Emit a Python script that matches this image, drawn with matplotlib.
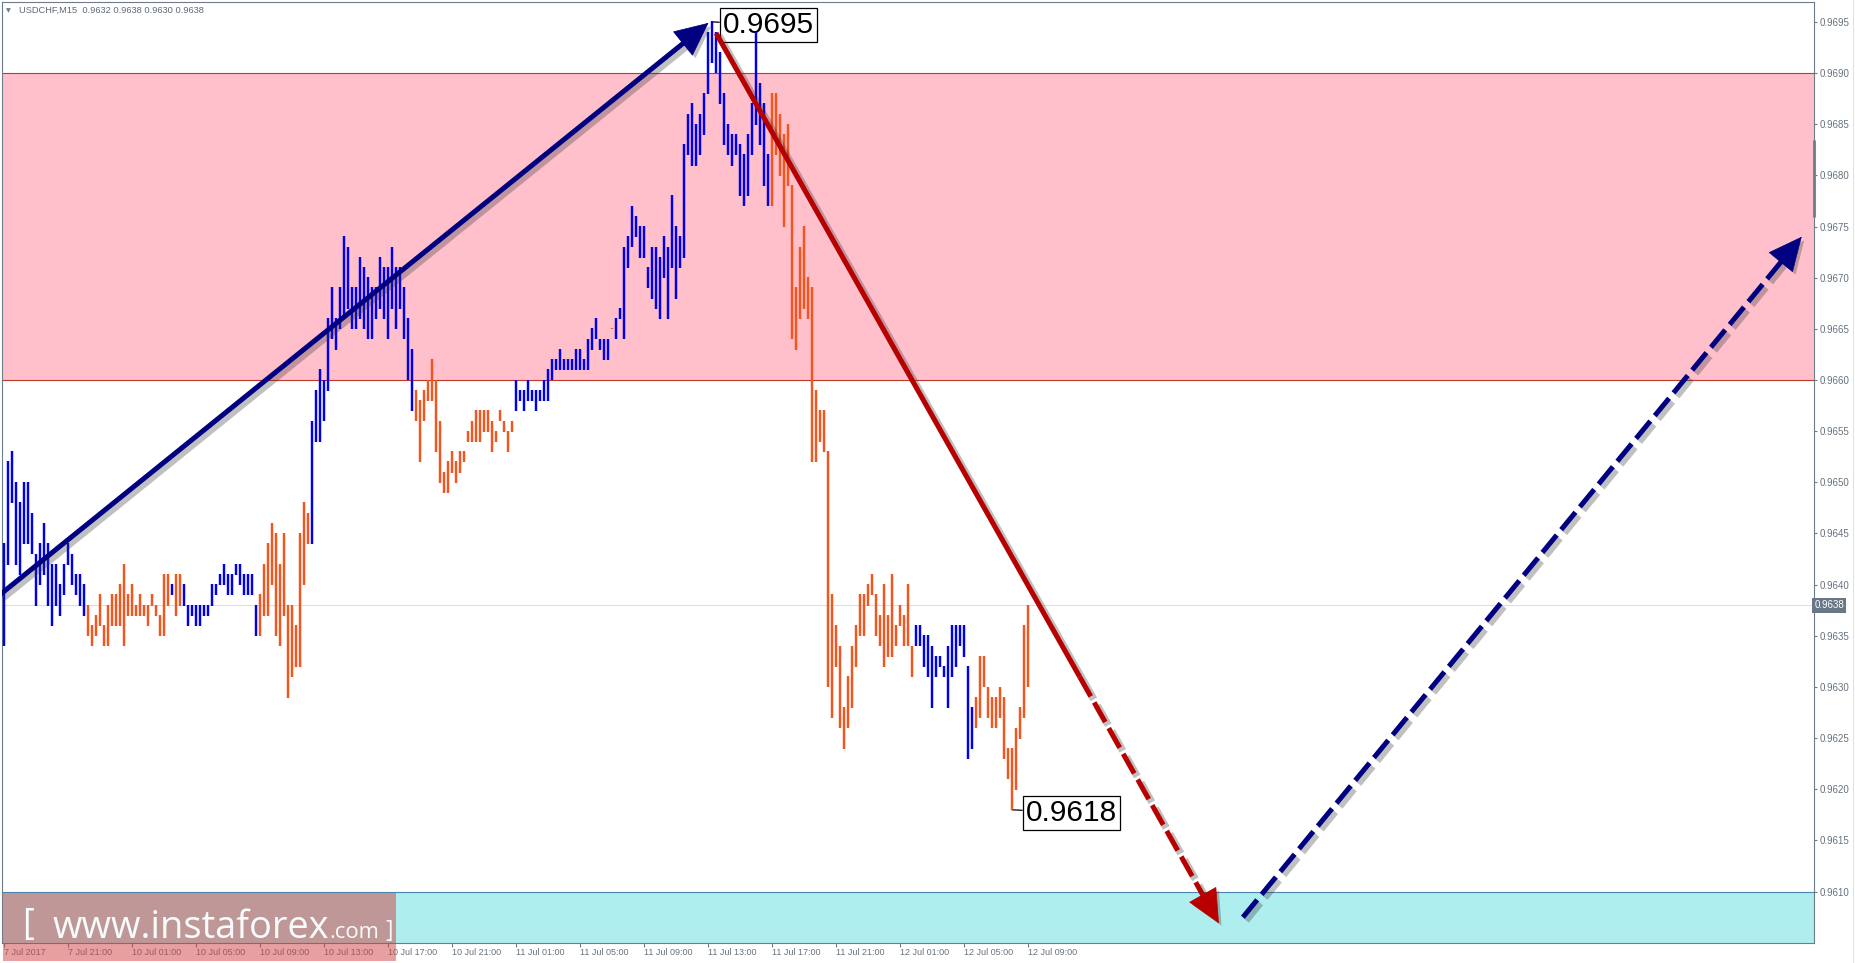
import numpy as np
import matplotlib.pyplot as plt
import matplotlib.patheffects as pe
from matplotlib.patches import Rectangle
from matplotlib.lines import Line2D
from matplotlib.transforms import blended_transform_factory

plt.rcParams['font.family'] = ['Liberation Sans', 'DejaVu Sans']

W, H, DPI = 1856, 963, 100

# ---- data: USDCHF M15 bars, high / low in pips above 0.9600 ----
high_pips = [
    44, 52, 53, 50, 48, 50, 50, 47, 43, 44, 46, 44, 42, 42, 40, 42,
    44, 43, 41, 41, 40, 38, 36, 37, 39, 36, 38, 39, 39, 40, 42, 39,
    40, 38, 39, 38, 38, 39, 38, 37, 41, 41, 40, 41, 41, 40, 38, 38,
    38, 38, 38, 38, 40, 40, 41, 42, 41, 41, 42, 42, 41, 41, 41, 38,
    39, 42, 44, 46, 45, 42, 45, 38, 38, 36, 45, 48, 47, 56, 59, 61,
    60, 66, 69, 66, 69, 74, 73, 69, 69, 72, 71, 70, 69, 69, 72, 71,
    71, 73, 71, 71, 69, 66, 63, 59, 58, 59, 60, 62, 60, 56, 51, 52,
    53, 52, 53, 53, 55, 56, 57, 57, 57, 57, 56, 55, 57, 56, 55, 56,
    60, 59, 59, 60, 59, 59, 59, 60, 61, 62, 62, 63, 62, 62, 62, 63,
    63, 62, 64, 65, 66, 64, 64, 64, 65, 66, 67, 73, 74, 77, 76, 75,
    75, 71, 73, 73, 72, 74, 73, 78, 75, 74, 83, 86, 87, 85, 86, 88,
    94, 95, 94, 92, 88, 85, 84, 84, 83, 82, 84, 87, 94, 89, 87, 82,
    88, 88, 86, 84, 85, 79, 69, 73, 75, 70, 69, 59, 57, 57, 53, 39,
    36, 34, 28, 31, 34, 36, 39, 39, 40, 41, 39, 37, 40, 37, 41, 36,
    38, 37, 40, 34, 36, 36, 35, 35, 34, 33, 33, 32, 34, 36, 36, 36,
    36, 32, 28, 29, 33, 33, 30, 29, 29, 30, 29, 24, 24, 26, 28, 36,
    38,
]
low_pips = [
    34, 42, 48, 42, 41, 44, 44, 43, 38, 40, 41, 38, 36, 38, 37, 39,
    42, 40, 39, 38, 37, 35, 34, 35, 36, 34, 34, 36, 36, 36, 34, 37,
    37, 37, 37, 37, 36, 38, 37, 35, 35, 38, 39, 37, 38, 38, 36, 37,
    36, 36, 37, 37, 38, 39, 40, 40, 39, 39, 41, 40, 39, 39, 39, 35,
    35, 37, 37, 40, 35, 34, 37, 29, 31, 32, 32, 40, 44, 44, 54, 54,
    56, 59, 64, 63, 65, 66, 67, 65, 65, 66, 65, 64, 64, 66, 67, 66,
    64, 67, 65, 67, 64, 60, 57, 56, 52, 56, 58, 58, 53, 50, 49, 49,
    51, 50, 51, 52, 54, 54, 54, 54, 55, 55, 53, 54, 56, 55, 53, 55,
    57, 58, 57, 58, 58, 57, 58, 58, 58, 60, 61, 61, 61, 61, 61, 61,
    61, 61, 61, 63, 64, 63, 62, 62, 65, 64, 66, 64, 71, 73, 74, 72,
    72, 69, 68, 67, 66, 70, 66, 71, 68, 71, 72, 82, 81, 81, 82, 84,
    88, 91, 90, 87, 83, 82, 81, 82, 78, 77, 78, 82, 85, 83, 79, 77,
    77, 82, 80, 75, 79, 64, 63, 66, 67, 66, 52, 52, 54, 53, 30, 27,
    32, 26, 24, 26, 28, 32, 35, 35, 38, 39, 35, 34, 32, 33, 33, 34,
    36, 34, 34, 31, 34, 34, 32, 31, 28, 31, 32, 31, 28, 31, 32, 34,
    33, 23, 24, 26, 27, 30, 27, 26, 26, 27, 23, 21, 18, 20, 25, 27,
    30,
]
# bar colouring: u = rising wave (blue), d = falling wave (orange)
bar_dir = ("uuuuuuuuuuuuuuuu" "uuuuuddddddddddd" "ddddddddddudduuu"
           "uuuuuuuuuuuuuuuu" "ddddddddddddduuu" "uuuuuuuuuuuuuuuu"
           "uuuuuuuddddddddd" "dddddddddddddddd" "uuuuuuuuuuuuuuuu"
           "uuuuuuuuduuuuuuu" "uuuuuuuuuuuuuuuu" "uuuuuuuuuuuuuuuu"
           "dddddddddddddddd" "dddddddddddddddd" "dddduuuuuuuuuuuu"
           "uuuddddddddddddd" "d")

time_labels = ["7 Jul 2017", "7 Jul 21:00", "10 Jul 01:00", "10 Jul 05:00",
               "10 Jul 09:00", "10 Jul 13:00", "10 Jul 17:00", "10 Jul 21:00",
               "11 Jul 01:00", "11 Jul 05:00", "11 Jul 09:00", "11 Jul 13:00",
               "11 Jul 17:00", "11 Jul 21:00", "12 Jul 01:00", "12 Jul 05:00",
               "12 Jul 09:00"]
label_every = 16

price_ticks = [0.9610, 0.9615, 0.9620, 0.9625, 0.9630, 0.9635, 0.9640, 0.9645,
               0.9650, 0.9655, 0.9660, 0.9665, 0.9670, 0.9675, 0.9680, 0.9685,
               0.9690, 0.9695]

resist_zone = (0.9660, 0.9690)
support_zone = (0.9600, 0.9610)
last_price = 0.9638
last_ohlc = [0.9632, 0.9638, 0.9630, 0.9638]

# wave arrows (bar index, price)
wave_up_x, wave_up_y = [-1, 176.2], [0.96390, 0.96949]
wave_dn_x, wave_dn_y = [178.1, 269, 303.8], [0.96939, 0.96310, 0.96069]
fcst_x, fcst_y = [309.8, 449.5], [0.96075, 0.96740]

hi_bar, hi_price = 177, 0.9695
lo_bar, lo_price = 252, 0.9618

# ---- figure ----
fig = plt.figure(figsize=(W / DPI, H / DPI), dpi=DPI)
ax = fig.add_axes([2.3 / W, 1 - 943 / H, (1814.3 - 2.3) / W, (943 - 1.7) / H])
ax.set_xlim(-0.35, 452.65)
ax.set_ylim(0.960498, 0.969697)

spine_c = '#6E7C8A'
for s in ax.spines.values():
    s.set_color(spine_c)
    s.set_linewidth(0.8)

ax.axhspan(*resist_zone, color='#FFC0CB', lw=0, zorder=0)
for lv in resist_zone:
    ax.axhline(lv, color='#C0392B', lw=0.8, zorder=0.5)
ax.axhspan(*support_zone, color='#AFEEEE', lw=0, zorder=0)
ax.axhline(support_zone[1], color='#4A86AE', lw=0.8, zorder=0.5)
ax.axhline(last_price, color='#DCDCF2', lw=0.8, zorder=1)

highs = 0.96 + np.array(high_pips) / 1e4
lows = 0.96 + np.array(low_pips) / 1e4
xs = np.arange(len(highs))
cols = ['#0000F0' if d == 'u' else '#F2561E' for d in bar_dir]
pad = 0.000004
ax.vlines(xs, lows - pad, highs + pad, colors=cols, lw=1.75, zorder=4)

# labels for the wave extremes
for bar, price, off in [(hi_bar, hi_price, 11), (lo_bar, lo_price, 14)]:
    ax.annotate(f"{price:.4f}", xy=(bar, price), xytext=(off, 0),
                textcoords='offset pixels', ha='left', va='center_baseline',
                fontsize=21.5, color='black',
                bbox=dict(boxstyle='square,pad=0.1', fc='white', ec='black', lw=0.9),
                arrowprops=dict(arrowstyle='-', color='black', lw=0.9,
                                shrinkA=0, shrinkB=0),
                zorder=3)

# ---- arrows ----
LW = 3.6
line_fx = [pe.SimpleLineShadow(offset=(2.2, -2.2), shadow_color='#303030',
                               alpha=0.3, linewidth=LW + 1.8), pe.Normal()]
head_fx = [pe.SimplePatchShadow(offset=(2.2, -2.2), shadow_rgbFace='#303030',
                                alpha=0.3), pe.Normal()]
DASH = (0, (4.5, 1.4))


def head_base(x0, y0, x1, y1, back_px=30):
    p0 = ax.transData.transform((x0, y0))
    p1 = ax.transData.transform((x1, y1))
    u = (p1 - p0) / np.hypot(*(p1 - p0))
    return ax.transData.inverted().transform(p1 - u * back_px)


def head(base, tip, color):
    ax.annotate('', xy=tip, xytext=base,
                arrowprops=dict(arrowstyle='-|>,head_length=1.0,head_width=0.47',
                                mutation_scale=23, fc=color, ec=color, lw=0.5,
                                shrinkA=0, shrinkB=0, path_effects=head_fx),
                zorder=6)


navy = '#000080'
red = '#B80000'

b = head_base(wave_up_x[0], wave_up_y[0], wave_up_x[1], wave_up_y[1])
ax.plot([wave_up_x[0], b[0]], [wave_up_y[0], b[1]], color=navy, lw=LW,
        solid_capstyle='butt', path_effects=line_fx, zorder=5)
head(b, (wave_up_x[1], wave_up_y[1]), navy)

b = head_base(wave_dn_x[0], wave_dn_y[0], wave_dn_x[2], wave_dn_y[2])
ax.plot(wave_dn_x[:2], wave_dn_y[:2], color=red, lw=LW,
        solid_capstyle='butt', path_effects=line_fx, zorder=5)
ax.plot([wave_dn_x[1], b[0]], [wave_dn_y[1], b[1]], color=red, lw=LW,
        linestyle=DASH, dash_capstyle='butt', path_effects=line_fx, zorder=5)
head(b, (wave_dn_x[2], wave_dn_y[2]), red)

b = head_base(fcst_x[0], fcst_y[0], fcst_x[1], fcst_y[1])
ax.plot([fcst_x[0], b[0]], [fcst_y[0], b[1]], color=navy, lw=LW,
        linestyle=DASH, dash_capstyle='butt', path_effects=line_fx, zorder=5)
head(b, (fcst_x[1], fcst_y[1]), navy)

# ---- axes ticks ----
lab_c = '#66727E'
ax.yaxis.tick_right()
ax.set_yticks(price_ticks)
ax.set_yticklabels([f"{p:.4f}" for p in price_ticks])
ax.tick_params(axis='y', direction='out', length=2.2, width=0.8, colors=spine_c,
               labelcolor=lab_c, labelsize=7, pad=1.4)
ax.set_xticks(np.arange(len(time_labels)) * label_every)
ax.set_xticklabels(time_labels)
for t in ax.get_xticklabels():
    t.set_ha('left')
ax.tick_params(axis='x', direction='out', length=3, width=0.8, colors=spine_c,
               labelcolor=lab_c, labelsize=6.5, pad=0.6)

yx = blended_transform_factory(ax.transAxes, ax.transData)
ax.text(1.0, last_price, f"{last_price:.4f}", transform=yx, ha='left', va='center',
        fontsize=7, color='white', zorder=7,
        bbox=dict(boxstyle='square,pad=0.25', fc='#6A7786', ec='none'))
ax.plot([1.0, 1.0], [0.96835, 0.96759], transform=yx, color='#7D8796', lw=2.2,
        clip_on=False, solid_capstyle='butt')

fig.add_artist(Line2D([1853 / W] * 2, [0, 1], color='#E2E2E2', lw=0.8))

# header
fig.text(6 / W, 1 - 10.6 / H, '\u25bc', fontsize=4.5, color='#6A7682',
         family='DejaVu Sans', va='center')
fig.text(19 / W, 1 - 10.6 / H,
         'USDCHF,M15  ' + ' '.join(f"{v:.4f}" for v in last_ohlc),
         fontsize=6.7, color='#5E6A76', va='center', ha='left')

# watermark
fig.add_artist(Rectangle((3.5 / W, 1 - 961 / H), 392.5 / W, 68 / H,
                         transform=fig.transFigure, fc='#D14141', alpha=0.5,
                         ec='none', zorder=10))
wm_c = '#F6FBFB'
wm_font = ['Open Sans', 'DejaVu Sans']
rend = fig.canvas.get_renderer()
base_y = 1 - 938 / H
t_main = fig.text(53 / W, base_y, 'www.instaforex', fontsize=30, family=wm_font,
                  color=wm_c, va='baseline', ha='left', zorder=12)
wdt = t_main.get_window_extent(rend).width
fs = 30 * 276 / wdt
t_main.set_fontsize(fs)
ext = t_main.get_window_extent(rend)
t_com = fig.text(ext.x1 / W, base_y, '.com', fontsize=fs * 0.58, family=wm_font,
                 color=wm_c, va='baseline', ha='left', zorder=12)
ext2 = t_com.get_window_extent(rend)
fig.text(22 / W, base_y + 4 / H, '[', fontsize=fs * 0.95, family=wm_font,
         color=wm_c, va='baseline', ha='left', zorder=12)
fig.text((ext2.x1 + 6) / W, base_y + 1 / H, ']', fontsize=fs * 0.6, family=wm_font,
         color=wm_c, va='baseline', ha='left', zorder=12)

fig.savefig('out.png', dpi=DPI)
